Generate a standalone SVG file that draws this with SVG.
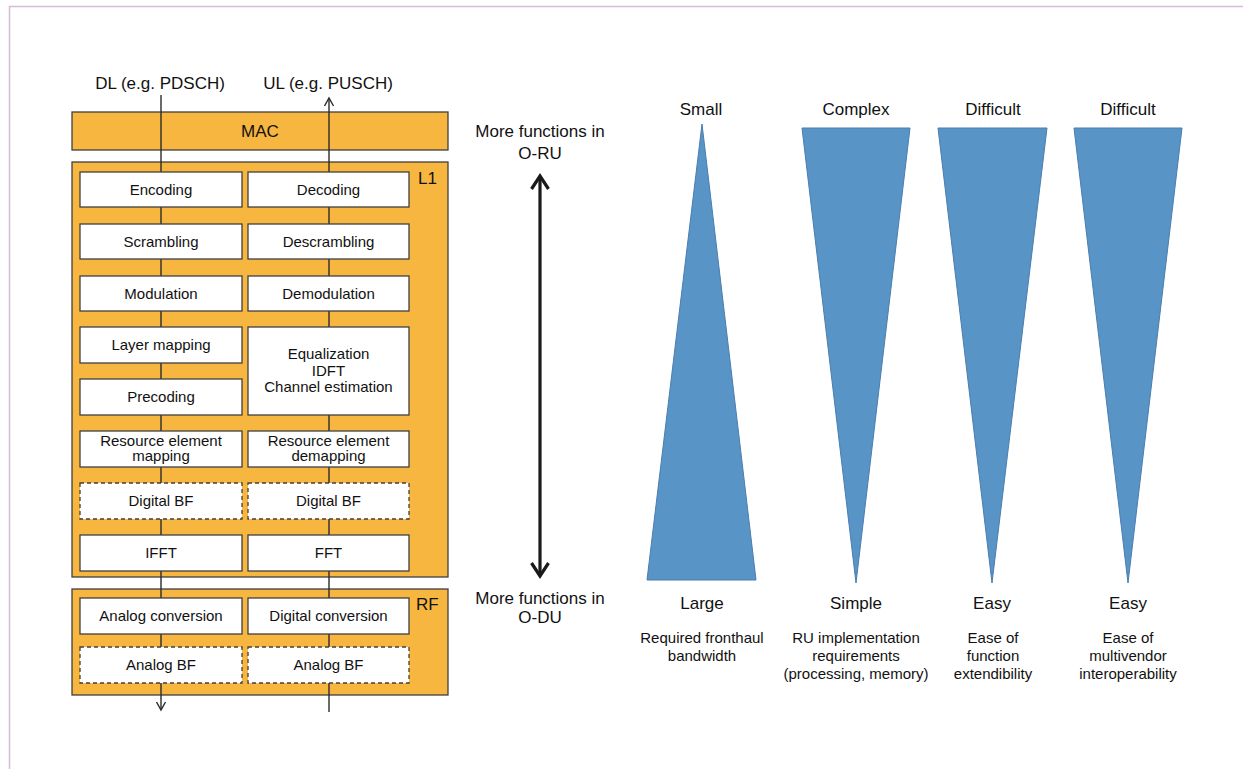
<svg xmlns="http://www.w3.org/2000/svg" width="1243" height="769" viewBox="0 0 1243 769">
<style>
text{font-family:"Liberation Sans",Arial,sans-serif;fill:#111;text-anchor:middle}
.big{font-size:17px}
.box{font-size:15px}
.desc{font-size:15px}
.cont{fill:#F6B640;stroke:#404040;stroke-width:1.3}
.blk{fill:#fff;stroke:#404040;stroke-width:1.3}
.dash{fill:#fff;stroke:#404040;stroke-width:1.3;stroke-dasharray:4 3}
.tri{fill:#5994C7;stroke:#4A7DAF;stroke-width:1}
.ln{fill:none;stroke:#2b2b2b;stroke-width:1.4}
.thick{fill:none;stroke:#1a1a1a;stroke-width:3.2}
</style>
<g id="frame"><path d="M9.5 769 V6.5 H1243" fill="none" stroke="#D6BCD6" stroke-width="1.5"/></g>
<g id="mac"><rect class="cont" x="72" y="112" width="376" height="38"/><text class="big" x="260" y="137">MAC</text></g>
<g id="l1"><rect class="cont" x="72" y="162" width="376" height="415"/><text class="big" x="418" y="184" style="text-anchor:start">L1</text></g>
<g id="rf"><rect class="cont" x="72" y="589" width="376" height="106"/><text class="big" x="416" y="610" style="text-anchor:start">RF</text></g>
<g id="connectors">
<path class="ln" d="M161 95 V709"/>
<path class="ln" d="M156.5 702 L161 710 L165.5 702"/>
<path class="ln" d="M329 712 V99"/>
<path class="ln" d="M324.5 106 L329 98 L333.5 106"/>
<path class="thick" d="M540 177 V575"/>
<path class="thick" d="M531.5 189 L540 176 L548.5 189"/>
<path class="thick" d="M531.5 563 L540 576 L548.5 563"/>
</g>
<g id="labels-top"><text class="big" x="160" y="89">DL (e.g. PDSCH)</text><text class="big" x="328" y="89">UL (e.g. PUSCH)</text></g>
<g id="encoding"><rect class="blk" x="80" y="172" width="162" height="35"/><text class="box" x="161" y="195">Encoding</text></g>
<g id="decoding"><rect class="blk" x="248" y="172" width="161" height="35"/><text class="box" x="328.5" y="195">Decoding</text></g>
<g id="scrambling"><rect class="blk" x="80" y="224" width="162" height="35"/><text class="box" x="161" y="247">Scrambling</text></g>
<g id="descrambling"><rect class="blk" x="248" y="224" width="161" height="35"/><text class="box" x="328.5" y="247">Descrambling</text></g>
<g id="modulation"><rect class="blk" x="80" y="276" width="162" height="35"/><text class="box" x="161" y="299">Modulation</text></g>
<g id="demodulation"><rect class="blk" x="248" y="276" width="161" height="35"/><text class="box" x="328.5" y="299">Demodulation</text></g>
<g id="layer-mapping"><rect class="blk" x="80" y="327" width="162" height="36"/><text class="box" x="161" y="350">Layer mapping</text></g>
<g id="precoding"><rect class="blk" x="80" y="379" width="162" height="36"/><text class="box" x="161" y="402">Precoding</text></g>
<g id="equalization"><rect class="blk" x="248" y="327" width="161" height="88"/><text class="box" x="328.5" y="359">Equalization</text><text class="box" x="328.5" y="376">IDFT</text><text class="box" x="328.5" y="392">Channel estimation</text></g>
<g id="re-mapping"><rect class="blk" x="80" y="431" width="162" height="36"/><text class="box" x="161" y="446">Resource element</text><text class="box" x="161" y="461">mapping</text></g>
<g id="re-demapping"><rect class="blk" x="248" y="431" width="161" height="36"/><text class="box" x="328.5" y="446">Resource element</text><text class="box" x="328.5" y="461">demapping</text></g>
<g id="dl-digital-bf"><rect class="dash" x="80" y="483" width="162" height="36"/><text class="box" x="161" y="506">Digital BF</text></g>
<g id="ul-digital-bf"><rect class="dash" x="248" y="483" width="161" height="36"/><text class="box" x="328.5" y="506">Digital BF</text></g>
<g id="ifft"><rect class="blk" x="80" y="535" width="162" height="36"/><text class="box" x="161" y="558">IFFT</text></g>
<g id="fft"><rect class="blk" x="248" y="535" width="161" height="36"/><text class="box" x="328.5" y="558">FFT</text></g>
<g id="analog-conversion"><rect class="blk" x="80" y="598" width="162" height="36"/><text class="box" x="161" y="621">Analog conversion</text></g>
<g id="digital-conversion"><rect class="blk" x="248" y="598" width="161" height="36"/><text class="box" x="328.5" y="621">Digital conversion</text></g>
<g id="dl-analog-bf"><rect class="dash" x="80" y="647" width="162" height="36"/><text class="box" x="161" y="670">Analog BF</text></g>
<g id="ul-analog-bf"><rect class="dash" x="248" y="647" width="161" height="36"/><text class="box" x="328.5" y="670">Analog BF</text></g>
<g id="oru-label"><text class="big" x="540" y="137">More functions in</text><text class="big" x="540" y="159">O-RU</text></g>
<g id="odu-label"><text class="big" x="540" y="604">More functions in</text><text class="big" x="540" y="623">O-DU</text></g>
<g id="bandwidth"><polygon class="tri" points="702,124 756,580 647,580"/><text class="big" x="701" y="115">Small</text><text class="big" x="702" y="609">Large</text><text class="desc" x="702" y="643">Required fronthaul</text><text class="desc" x="702" y="661">bandwidth</text></g>
<g id="ru-impl"><polygon class="tri" points="802,128 910,128 856,583"/><text class="big" x="856" y="115">Complex</text><text class="big" x="856" y="609">Simple</text><text class="desc" x="856" y="643">RU implementation</text><text class="desc" x="856" y="661">requirements</text><text class="desc" x="856" y="679">(processing, memory)</text></g>
<g id="extendibility"><polygon class="tri" points="938,128 1047,128 992,583"/><text class="big" x="993" y="115">Difficult</text><text class="big" x="992" y="609">Easy</text><text class="desc" x="993" y="643">Ease of</text><text class="desc" x="993" y="661">function</text><text class="desc" x="993" y="679">extendibility</text></g>
<g id="interop"><polygon class="tri" points="1074,128 1182,128 1128,583"/><text class="big" x="1128" y="115">Difficult</text><text class="big" x="1128" y="609">Easy</text><text class="desc" x="1128" y="643">Ease of</text><text class="desc" x="1128" y="661">multivendor</text><text class="desc" x="1128" y="679">interoperability</text></g>
</svg>
